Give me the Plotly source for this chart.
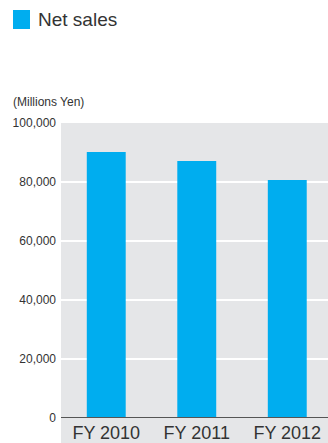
import plotly.graph_objects as go

categories = ["FY 2010", "FY 2011", "FY 2012"]
net_sales = [90200, 87100, 80700]
y_ticks = [0, 20000, 40000, 60000, 80000, 100000]
y_tick_labels = ["0", "20,000", "40,000", "60,000", "80,000", "100,000"]

BAR = "#00adef"
BG = "#e5e6e8"
TXT = "#333333"
FONT = "Liberation Sans, Arial, sans-serif"

fig = go.Figure()
fig.add_trace(go.Bar(x=categories, y=net_sales, marker=dict(color=BAR, line=dict(width=0)),
                     width=0.43, name="Net sales", showlegend=False))

fig.update_layout(
    width=328, height=443,
    margin=dict(l=61, r=0, t=123, b=25, pad=0),
    paper_bgcolor="white", plot_bgcolor=BG,
    font=dict(family=FONT, color=TXT),
    xaxis=dict(range=[-0.5, 2.45], showgrid=False, zeroline=False, showline=False,
               tickfont=dict(size=18, color=TXT), ticks="", ticklabelstandoff=2,
               fixedrange=True),
    yaxis=dict(range=[0, 100000], tickvals=y_ticks, ticktext=y_tick_labels,
               showgrid=True, gridcolor="white", gridwidth=2, zeroline=False,
               showline=False, ticks="", ticklabelstandoff=4,
               tickfont=dict(size=12, color=TXT)),
    shapes=[
        dict(type="rect", xref="paper", yref="paper", x0=0, x1=1, y0=-25/295, y1=0,
             fillcolor=BG, line=dict(width=0), layer="below"),
        dict(type="line", xref="paper", yref="y", x0=0, x1=1, y0=0, y1=0,
             line=dict(color="#555555", width=2), layer="above"),
        dict(type="rect", xref="paper", yref="paper",
             x0=(13-61)/267, x1=(30-61)/267, y0=(418-29)/295, y1=(418-10)/295,
             fillcolor=BAR, line=dict(width=0)),
    ],
    annotations=[
        dict(text="Net sales", xref="paper", yref="paper", x=(36-61)/267, y=(418-19.5)/295,
             xanchor="left", yanchor="middle", showarrow=False,
             font=dict(size=19, color=TXT)),
        dict(text="(Millions Yen)", xref="paper", yref="paper", x=(11-61)/267, y=(418-102)/295,
             xanchor="left", yanchor="middle", showarrow=False,
             font=dict(size=12, color=TXT)),
    ],
)

fig.write_html("out.html")
